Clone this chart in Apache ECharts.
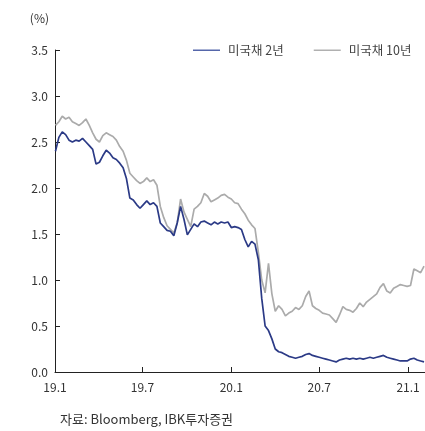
<!DOCTYPE html>
<html>
<head>
<meta charset="utf-8">
<script src="https://cdn.jsdelivr.net/npm/echarts@6/dist/echarts.min.js"></script>
<style>
  html, body { margin: 0; padding: 0; background: #fff; }
  #chart { width: 425px; height: 431px; }
</style>
</head>
<body>
<div id="chart"></div>
<script>
// Weekly closes, first week of 2019 through early February 2021
const startDate = '2019-01-02';
const yTicks = [0, 0.5, 1.0, 1.5, 2.0, 2.5, 3.0, 3.5];
const xTickLabels = ['2019-01-01', '2019-07-01', '2020-01-01', '2020-07-01', '2021-01-01'];

// US Treasury 2-year yield (%)
const ust2y = [
  2.40, 2.55, 2.61, 2.58, 2.52, 2.50, 2.52, 2.51, 2.54, 2.50,
  2.46, 2.42, 2.26, 2.28, 2.35, 2.41, 2.38, 2.33, 2.31, 2.27,
  2.22, 2.10, 1.89, 1.87, 1.82, 1.78, 1.82, 1.86, 1.82, 1.84,
  1.80, 1.62, 1.58, 1.54, 1.53, 1.48, 1.62, 1.80, 1.66, 1.49,
  1.55, 1.61, 1.58, 1.63, 1.64, 1.62, 1.60, 1.63, 1.61, 1.63,
  1.62, 1.63, 1.57, 1.58, 1.57, 1.55, 1.44, 1.36, 1.42, 1.39,
  1.22, 0.80, 0.50, 0.45, 0.36, 0.25, 0.22, 0.21, 0.19, 0.17,
  0.16, 0.15, 0.16, 0.17, 0.19, 0.20, 0.18, 0.17, 0.16, 0.15,
  0.14, 0.13, 0.12, 0.11, 0.13, 0.14, 0.15, 0.14, 0.15, 0.14,
  0.15, 0.14, 0.15, 0.16, 0.15, 0.16, 0.17, 0.18, 0.16, 0.15,
  0.14, 0.13, 0.12, 0.12, 0.12, 0.14, 0.15, 0.13, 0.12, 0.11
];

// US Treasury 10-year yield (%)
const ust10y = [
  2.68, 2.72, 2.78, 2.75, 2.77, 2.72, 2.70, 2.68, 2.71, 2.75,
  2.68, 2.60, 2.53, 2.50, 2.57, 2.60, 2.58, 2.56, 2.52, 2.45,
  2.40, 2.30, 2.16, 2.12, 2.08, 2.05, 2.07, 2.11, 2.07, 2.09,
  2.03, 1.80, 1.68, 1.59, 1.55, 1.51, 1.62, 1.88, 1.74, 1.66,
  1.58, 1.77, 1.80, 1.84, 1.94, 1.91, 1.85, 1.87, 1.89, 1.92,
  1.93, 1.90, 1.88, 1.84, 1.83, 1.77, 1.72, 1.65, 1.60, 1.56,
  1.30, 1.00, 0.86, 1.18, 0.85, 0.66, 0.72, 0.68, 0.61, 0.64,
  0.66, 0.70, 0.68, 0.72, 0.82, 0.88, 0.72, 0.69, 0.67, 0.64,
  0.63, 0.62, 0.58, 0.54, 0.62, 0.71, 0.68, 0.67, 0.65, 0.69,
  0.75, 0.71, 0.76, 0.79, 0.82, 0.85, 0.92, 0.96, 0.88, 0.86,
  0.91, 0.93, 0.95, 0.94, 0.93, 0.94, 1.12, 1.10, 1.08, 1.15
];

const DAY = 86400000;
const t0 = Date.parse(startDate + 'T00:00:00Z');
const weekDates = ust2y.map((_, i) => t0 + i * 7 * DAY);
const pairs = (vals) => vals.map((v, i) => [weekDates[i], v]);
const tickTimes = xTickLabels.map(d => Date.parse(d + 'T00:00:00Z'));

const FONT = '"Noto Sans CJK KR", "Noto Sans", sans-serif';
const chart = echarts.init(document.getElementById('chart'), null, { renderer: 'canvas' });

chart.setOption({
  animation: false,
  textStyle: { fontFamily: FONT },
  grid: { left: 55, right: 0, top: 50, bottom: 59, containLabel: false },
  legend: {
    top: 39,
    left: 188,
    itemWidth: 27,
    itemHeight: 1.5,
    itemGap: 30,
    icon: 'rect',
    textStyle: { fontSize: 12.5, color: '#444', fontFamily: FONT, padding: [0, 0, 0, 3] },
    data: ['미국채 2년', '미국채 10년']
  },
  xAxis: {
    type: 'value',
    min: Date.parse('2019-01-01T00:00:00Z'),
    max: Date.parse('2021-02-05T00:00:00Z'),
    axisLine: { lineStyle: { color: '#222', width: 1 } },
    axisTick: { show: true, inside: true, length: 5, customValues: tickTimes, lineStyle: { color: '#222' } },
    axisLabel: {
      customValues: tickTimes,
      color: '#333',
      fontSize: 12,
      margin: 9,
      hideOverlap: false,
      formatter: (v) => {
        const d = new Date(v);
        return String(d.getUTCFullYear()).slice(2) + '.' + (d.getUTCMonth() + 1);
      }
    },
    splitLine: { show: false }
  },
  yAxis: {
    type: 'value',
    min: yTicks[0],
    max: yTicks[yTicks.length - 1],
    interval: 0.5,
    name: '(%)',
    nameLocation: 'end',
    nameGap: 26,
    nameTextStyle: { color: '#333', fontSize: 12, align: 'right', padding: [0, 6, 0, 0] },
    axisLine: { show: true, lineStyle: { color: '#222', width: 1 } },
    axisTick: { show: true, inside: true, length: 5, lineStyle: { color: '#222' } },
    axisLabel: { color: '#333', fontSize: 12, margin: 7, formatter: (v) => v.toFixed(1) },
    splitLine: { show: false }
  },
  graphic: [{
    type: 'text',
    left: 60,
    top: 413,
    style: { text: '자료: Bloomberg, IBK투자증권', fill: '#333', fontSize: 13, fontFamily: FONT }
  }],
  series: [
    {
      name: '미국채 2년',
      type: 'line',
      data: pairs(ust2y),
      showSymbol: false,
      symbol: 'none',
      lineStyle: { color: '#2b3a86', width: 1.7 },
      itemStyle: { color: '#5566aa' },
      z: 3
    },
    {
      name: '미국채 10년',
      type: 'line',
      data: pairs(ust10y),
      showSymbol: false,
      symbol: 'none',
      lineStyle: { color: '#ababab', width: 1.7 },
      itemStyle: { color: '#b0b0b0' },
      z: 2
    }
  ]
});
</script>
</body>
</html>
